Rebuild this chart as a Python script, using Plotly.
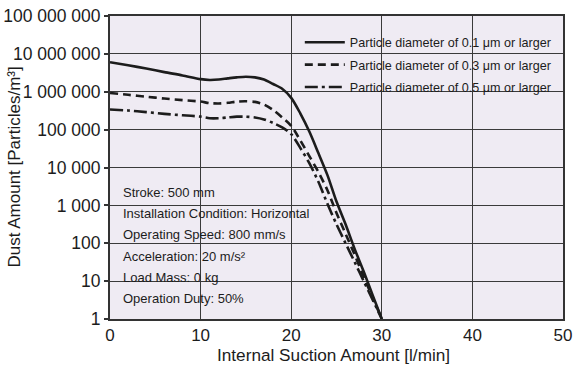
import plotly.graph_objects as go

# Data
suction = [0, 2, 4, 6, 8, 10, 11, 12, 13, 14, 15, 16, 17, 18, 19, 20,
           21, 22, 23, 24, 25, 26, 27, 28, 29, 30]
dust_01um = [6.0e6, 5.0e6, 4.1e6, 3.3e6, 2.7e6, 2.15e6, 2.05e6, 2.1e6, 2.25e6, 2.4e6,
             2.5e6, 2.4e6, 2.1e6, 1.6e6, 1.2e6, 6.9e5, 2.7e5, 8.9e4, 2.4e4, 6.3e3,
             1.26e3, 316, 71, 18, 4.2, 1]
dust_03um = [9.3e5, 8.3e5, 7.4e5, 6.6e5, 6.0e5, 5.5e5, 5.0e5, 4.9e5, 5.1e5, 5.5e5,
             5.6e5, 5.4e5, 4.6e5, 3.3e5, 2.1e5, 1.26e5, 5.2e4, 2.0e4, 7.6e3, 2.5e3,
             630, 178, 50, 13, 3.6, 1]
dust_05um = [3.4e5, 3.2e5, 2.9e5, 2.6e5, 2.4e5, 2.2e5, 2.0e5, 2.0e5, 2.1e5, 2.2e5,
             2.2e5, 2.1e5, 1.86e5, 1.5e5, 1.15e5, 7.6e4, 3.3e4, 1.3e4, 4.2e3, 1.1e3,
             316, 100, 32, 10, 3.2, 1]
series_names = ["Particle diameter of 0.1 μm or larger",
                "Particle diameter of 0.3 μm or larger",
                "Particle diameter of 0.5 μm or larger"]
y_tickvals = [1, 10, 100, 1e3, 1e4, 1e5, 1e6, 1e7, 1e8]
y_ticktext = ["1", "10", "100", "1 000", "10 000", "100 000", "1 000 000",
              "10 000 000", "100 000 000"]
conditions = ["Stroke: 500 mm",
              "Installation Condition: Horizontal",
              "Operating Speed: 800 mm/s",
              "Acceleration: 20 m/s²",
              "Load Mass: 0 kg",
              "Operation Duty: 50%"]

FONT = "Liberation Sans, Arial, Helvetica, sans-serif"
BG = "#EFEBF3"
INK = "#1c1c1c"
GRID = "#3a3a3a"

fig = go.Figure()
dashes = ["solid", "8px,5px", "13px,4px,3px,4px"]
for i, (name, ys, dash) in enumerate(zip(series_names, [dust_01um, dust_03um, dust_05um], dashes)):
    fig.add_trace(go.Scatter(
        x=suction, y=ys, mode="lines", name=name, legendgroup=f"g{i}",
        line=dict(color=INK, width=2.6, dash=dash, shape="spline", smoothing=0.8),
    ))

# background patches that hide the grid under the legend and the condition box
fig.add_shape(type="rect", xref="paper", yref="paper", x0=0, x1=0.448, y0=0, y1=0.469,
              fillcolor=BG, line_width=0, layer="between")
fig.add_shape(type="rect", xref="paper", yref="paper", x0=0.402, x1=0.978, y0=0.729, y1=0.970,
              fillcolor=BG, line_width=0, layer="between")

for i, txt in enumerate(conditions):
    ypix = 192.5 + 21.2 * i
    fig.add_annotation(text=txt, xref="paper", yref="paper",
                       x=0.025, y=(319 - ypix) / 303, xanchor="left", yanchor="middle",
                       showarrow=False, font=dict(family=FONT, size=13, color=INK))

fig.add_annotation(text="Dust Amount [Particles/m³]", xref="paper", yref="paper",
                   x=(14 - 110) / 453, y=0.5, textangle=-90, showarrow=False,
                   xanchor="center", yanchor="middle",
                   font=dict(family=FONT, size=17, color=INK))
fig.add_annotation(text="Internal Suction Amount [l/min]", xref="paper", yref="paper",
                   x=0.494, y=(319 - 355) / 303, showarrow=False,
                   xanchor="center", yanchor="middle",
                   font=dict(family=FONT, size=17.2, color=INK))

fig.update_layout(
    width=574, height=367,
    margin=dict(l=110, r=11, t=16, b=48, autoexpand=False),
    plot_bgcolor=BG, paper_bgcolor="white",
    font=dict(family=FONT, color=INK),
    showlegend=True,
    legend=dict(x=0.419, y=0.962, xanchor="left", yanchor="top",
                bgcolor="rgba(0,0,0,0)", borderwidth=0, itemwidth=40,
                traceorder="grouped", tracegroupgap=3,
                font=dict(family=FONT, size=12.6, color=INK)),
    xaxis=dict(range=[0, 50], dtick=10, showgrid=True, gridcolor=GRID, gridwidth=1.4,
               showline=True, linecolor="#333333", linewidth=2, mirror=True,
               ticks="", zeroline=False, automargin=False,
               tickfont=dict(family=FONT, size=17, color=INK)),
    yaxis=dict(type="log", range=[0, 8], tickvals=y_tickvals, ticktext=y_ticktext,
               showgrid=True, gridcolor=GRID, gridwidth=1.4,
               showline=True, linecolor="#333333", linewidth=2, mirror=True,
               ticks="outside", ticklen=4, tickwidth=1.5, tickcolor="#333333",
               zeroline=False, automargin=False,
               tickfont=dict(family=FONT, size=17.5, color=INK)),
)

fig.write_html("out.html", config={"displayModeBar": False},
               post_script="document.body.style.margin='0';document.body.style.overflow='hidden';")
